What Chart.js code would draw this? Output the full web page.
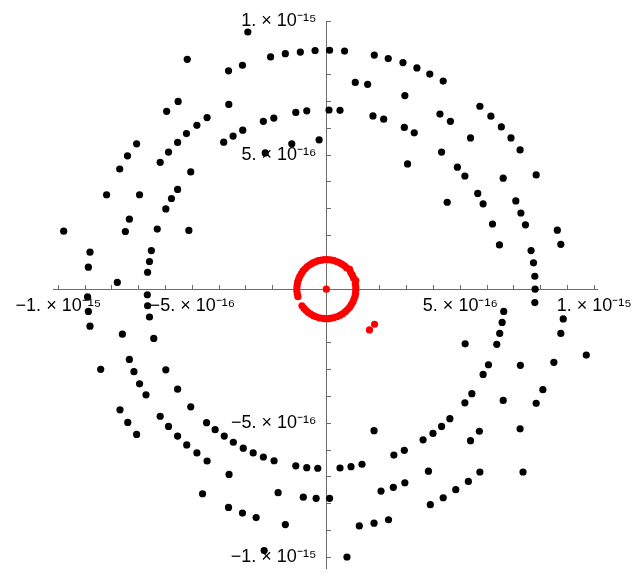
<!DOCTYPE html>
<html lang="en">
<head>
    <meta charset="UTF-8">
    <title>Orbit points</title>
    <script src="https://cdn.jsdelivr.net/npm/chart.js"></script>
    <style>
        body { margin: 0; background: #fff; }
        #wrap { width: 634px; height: 577px; }
    </style>
</head>
<body>
    <div id="wrap"><canvas id="orbitChart" width="634" height="577"></canvas></div>

    <script>
        // all coordinates are in units of 1e-16
        const tickValues = [-10, -5, 5, 10];
        const tickText = ['−1. × 10⁻¹⁵', '−5. × 10⁻¹⁶', '5. × 10⁻¹⁶', '1. × 10⁻¹⁵'];

        const upperLeft = [[-5.19,8.57],[-5.53,7.00],[-5.96,6.63],[-4.45,6.40],[-4.83,6.11],[-5.22,5.80],[-5.55,5.47],[-5.89,5.11],[-6.20,4.73],[-7.08,5.42],[-7.42,4.97],[-7.71,4.48],[-5.06,4.37],[-5.55,3.72],[-8.20,3.52],[-6.97,3.52]];
        const upperMid = [[-2.93,9.59],[-3.65,8.14],[-3.13,8.35],[-2.08,8.66],[-1.53,8.78],[-0.97,8.84],[-0.42,8.90],[0.12,8.91],[0.68,8.88],[1.79,8.73],[2.31,8.60],[2.86,8.45],[3.38,8.25],[1.08,7.71],[1.54,7.64],[2.93,7.22],[-3.64,6.89],[-3.83,5.48],[-3.48,5.71],[-3.12,5.93],[-2.35,6.26],[-1.96,6.38],[-1.14,6.59],[-0.73,6.65],[0.10,6.68],[0.51,6.67],[1.74,6.46],[2.14,6.34],[2.91,6.03],[3.28,5.83],[-1.29,5.42],[-0.27,5.57],[-2.28,5.08],[3.03,4.67]];
        const upperRight = [[3.86,8.02],[4.36,7.76],[5.73,6.82],[6.14,6.45],[6.53,6.05],[6.89,5.64],[7.23,5.19],[4.24,6.53],[4.63,6.26],[5.38,5.64],[4.30,5.11],[4.89,4.55],[5.17,4.22],[6.60,4.14],[7.83,4.26],[5.65,3.57]];
        const leftSide = [[-5.78,3.38],[-5.99,2.99],[-7.35,2.61],[-7.50,2.15],[-6.31,2.24],[-5.13,2.19],[-9.80,2.16],[-8.82,1.38],[-6.53,1.44],[-8.88,0.82],[-6.60,1.03],[-6.67,0.63],[-7.80,0.25],[-8.91,-0.29],[-6.68,-0.21],[-8.88,-0.83],[-6.67,-0.62],[-6.60,-1.04],[-8.82,-1.38],[-7.61,-1.68],[-6.44,-1.84],[-7.35,-2.62],[-8.42,-2.99],[-7.18,-3.08],[-5.99,-3.01],[-6.97,-3.53]];
        const rightSide = [[4.51,3.24],[5.85,3.18],[7.07,3.29],[7.26,2.84],[6.20,2.43],[7.43,2.40],[8.62,2.20],[6.46,1.65],[8.75,1.67],[7.64,1.44],[7.73,0.98],[7.78,0.48],[7.79,0],[7.78,-0.50],[6.62,-0.83],[6.56,-1.24],[8.84,-1.11],[6.47,-1.65],[8.75,-1.65],[5.18,-2.04],[6.36,-2.06],[9.70,-2.46],[6.05,-2.82],[7.24,-2.84],[8.49,-2.73],[5.85,-3.18]];
        const lowerLeft = [[-5.55,-3.73],[-6.73,-3.94],[-5.06,-4.39],[-7.70,-4.50],[-7.41,-4.97],[-7.08,-5.42],[-6.20,-4.74],[-5.89,-5.12],[-5.55,-5.48],[-5.21,-5.81],[-4.83,-6.11],[-4.45,-6.41],[-4.47,-4.98],[-4.62,-7.63]];
        const lowerMid = [[-4.15,-5.24],[-3.81,-5.48],[-3.47,-5.71],[-3.10,-5.93],[-2.73,-6.11],[-2.35,-6.26],[-1.95,-6.40],[-1.14,-6.59],[-0.73,-6.66],[-0.32,-6.68],[0.51,-6.67],[0.92,-6.62],[1.33,-6.53],[1.78,-5.28],[2.52,-6.19],[2.91,-6.01],[3.61,-5.62],[-3.63,-6.91],[-1.80,-7.59],[-0.86,-7.76],[-0.38,-7.80],[0.12,-7.80],[2.04,-7.53],[2.50,-7.39],[2.93,-7.22],[-3.65,-8.14],[-3.13,-8.35],[-2.62,-8.52],[-1.53,-8.78],[1.23,-8.83],[1.78,-8.73],[2.32,-8.60],[-2.32,-9.75],[0.77,-9.99]];
        const lowerRight = [[5.43,-3.90],[5.17,-4.24],[6.60,-4.15],[8.08,-3.75],[7.83,-4.26],[4.61,-4.83],[4.30,-5.12],[3.98,-5.38],[5.71,-5.30],[5.38,-5.65],[7.23,-5.21],[3.81,-6.79],[5.73,-6.82],[7.34,-6.82],[5.30,-7.17],[4.83,-7.48],[4.36,-7.78],[3.88,-8.04]];

        // red cluster near the origin
        const redRing = [[-0.91,-0.62],[-0.84,-0.71],[-0.76,-0.79],[-0.68,-0.87],[-0.58,-0.93],[-0.48,-0.99],[-0.38,-1.03],[-0.27,-1.07],[-0.15,-1.09],[-0.04,-1.10],[0.08,-1.10],[0.19,-1.08],[0.30,-1.06],[0.41,-1.02],[0.52,-0.97],[0.62,-0.91],[0.71,-0.84],[0.79,-0.76],[0.87,-0.68],[0.93,-0.58],[0.99,-0.48],[1.03,-0.38],[1.07,-0.27],[1.09,-0.15],[1.10,-0.04],[1.10,0.08],[1.08,0.19],[1.10,0.32],[1.02,0.41],[0.97,0.52],[0.91,0.62],[0.87,0.74],[0.76,0.79],[0.68,0.87],[0.58,0.93],[0.48,0.99],[0.38,1.03],[0.27,1.07],[0.15,1.09],[0.04,1.10],[-0.08,1.10],[-0.19,1.08],[-0.30,1.06],[-0.41,1.02],[-0.52,0.97],[-0.62,0.91],[-0.71,0.84],[-0.79,0.76],[-0.87,0.68],[-0.93,0.58],[-0.99,0.48],[-1.03,0.38],[-1.07,0.27],[-1.09,0.15],[-1.10,0.04],[-1.10,-0.08],[-1.08,-0.19],[-1.06,-0.28]];
        const redOther = [[0,0],[1.61,-1.52],[1.80,-1.31]];

        const toXY = arr => arr.map(p => ({x: p[0], y: p[1]}));
        const blackGroups = [upperLeft, upperMid, upperRight, leftSide, rightSide, lowerLeft, lowerMid, lowerRight];

        const datasets = blackGroups.map(g => ({
            data: toXY(g),
            backgroundColor: '#000',
            borderWidth: 0,
            pointRadius: 3.6
        }));
        datasets.push({
            data: toXY(redRing.concat(redOther)),
            backgroundColor: '#f00',
            borderWidth: 0,
            pointRadius: 3.6
        });

        const axisColor = '#6b6b6b';
        const labelFont = { family: 'Liberation Sans', size: 18 };

        // keep the tick labels from shrinking the plot area
        const noPadding = s => { s.paddingLeft = 0; s.paddingRight = 0; s.paddingTop = 0; s.paddingBottom = 0; };

        new Chart(document.getElementById('orbitChart'), {
            type: 'scatter',
            data: { datasets: datasets },
            options: {
                responsive: false,
                animation: false,
                layout: { padding: { left: 53, right: 37, top: 21, bottom: 9 } },
                plugins: { legend: { display: false }, tooltip: { enabled: false } },
                scales: {
                    x: {
                        type: 'linear',
                        position: { y: 0 },
                        min: -10.2,
                        max: 10.1,
                        z: 1,
                        afterFit: noPadding,
                        border: { color: axisColor, width: 1 },
                        grid: { drawOnChartArea: false, drawTicks: true, tickLength: -5, color: axisColor },
                        ticks: {
                            stepSize: 1,
                            includeBounds: false,
                            autoSkip: false,
                            maxRotation: 0,
                            padding: 11,
                            color: '#000',
                            font: labelFont,
                            callback: v => {
                                const i = tickValues.indexOf(v);
                                return i < 0 ? '' : tickText[i];
                            }
                        }
                    },
                    y: {
                        type: 'linear',
                        position: { x: 0 },
                        min: -10.4,
                        max: 10,
                        z: 1,
                        afterFit: noPadding,
                        border: { color: axisColor, width: 1 },
                        grid: { drawOnChartArea: false, drawTicks: true, tickLength: -5, color: axisColor },
                        ticks: {
                            stepSize: 1,
                            includeBounds: false,
                            autoSkip: false,
                            color: '#000',
                            font: labelFont,
                            callback: v => {
                                const i = tickValues.indexOf(v);
                                return i < 0 ? '' : tickText[i] + '  ';
                            }
                        }
                    }
                }
            }
        });
    </script>
</body>
</html>
